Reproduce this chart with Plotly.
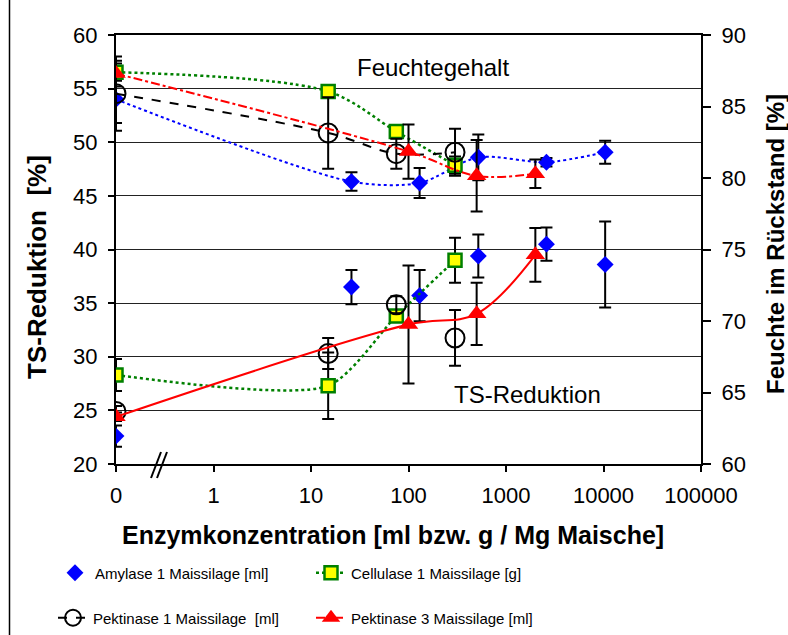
import plotly.graph_objects as go

# ---------------- data ----------------
amy_x = [0, 26, 130, 520, 2600, 10400]
amy_ts = [22.6, 36.5, 35.7, 39.4, 40.5, 38.6]
amy_ts_err = [1.0, 1.6, 2.4, 2.0, 1.55, 4.0]
amy_fe = [85.5, 79.75, 79.65, 81.45, 81.1, 81.8]
amy_fe_err = [1.65, 0.65, 1.05, 1.6, 0.3, 0.8]

cel_x = [0, 15, 75, 300]
cel_ts = [28.3, 27.3, 33.8, 39.0]
cel_ts_err = [1.5, 3.1, 0.5, 2.1]
cel_fe = [87.4, 86.05, 83.25, 80.9]
cel_fe_err = [0.6, 0.3, 0.3, 0.6]

pk1_x = [0, 15, 75, 300]
pk1_ts = [24.9, 30.3, 34.85, 31.75]
pk1_ts_err = [0.5, 1.45, 0.8, 2.6]
pk1_fe = [85.9, 83.15, 81.7, 81.8]
pk1_fe_err = [2.6, 2.5, 1.05, 1.65]

pk3_x = [0, 100, 500, 2000]
pk3_ts = [24.4, 33.0, 34.0, 39.5]
pk3_ts_err = [0.4, 5.5, 2.9, 2.5]
pk3_fe = [87.3, 81.85, 80.15, 80.3]
pk3_fe_err = [0.9, 1.9, 2.5, 1.0]

x_tickvals = [0, 1, 10, 100, 1000, 10000, 100000]
x_ticktext = ["0", "1", "10", "100", "1000", "10000", "100000"]

names = ["Amylase 1 Maissilage [ml]", "Cellulase 1 Maissilage [g]",
         "Pektinase 1 Maissilage  [ml]", "Pektinase 3 Maissilage [ml]"]

# ---------------- layout helpers ----------------
W, H = 788, 635
L, R, T, B = 116, 87, 35, 171
PW, PH = W - L - R, H - T - B
FONT = "Liberation Sans, Arial, sans-serif"


def zpos(v):
    # "0" is drawn one decade left of 1 on the log axis
    return [x if x > 0 else 0.1 for x in v]


def px(xp):
    return (xp - L) / PW


def py(yp):
    return (H - B - yp) / PH


def err(arr):
    return dict(type="data", array=arr, color="black", thickness=2, width=6, visible=True)


m_amy = dict(symbol="diamond", size=13, color="#0000FF", line=dict(width=0))
m_cel = dict(symbol="square", size=13, color="#FFFF00", line=dict(color="#008000", width=2.5))
m_pk1 = dict(symbol="circle-open", size=19, color="black", line=dict(color="black", width=2))
m_pk3 = dict(symbol="triangle-up", size=17, color="#FF0000", line=dict(width=0))

fig = go.Figure()

# upper group: moisture (right axis)
fig.add_trace(go.Scatter(x=zpos(amy_x), y=amy_fe, yaxis="y2", mode="lines+markers",
                         line=dict(color="#0000FF", width=2, dash="dot", shape="spline", smoothing=0.8),
                         marker=m_amy, error_y=err(amy_fe_err), showlegend=False))
fig.add_trace(go.Scatter(x=zpos(cel_x), y=cel_fe, yaxis="y2", mode="lines+markers",
                         line=dict(color="#008000", width=2.5, dash="dot", shape="spline", smoothing=0.9),
                         marker=m_cel, error_y=err(cel_fe_err), name=names[1], legend="legend2"))
fig.add_trace(go.Scatter(x=zpos(pk1_x), y=pk1_fe, yaxis="y2", mode="lines+markers",
                         line=dict(color="black", width=2, dash="dash", shape="spline", smoothing=1),
                         marker=m_pk1, error_y=err(pk1_fe_err), name=names[2], legend="legend3"))
fig.add_trace(go.Scatter(x=zpos(pk3_x), y=pk3_fe, yaxis="y2", mode="lines+markers",
                         line=dict(color="#FF0000", width=2, dash="dashdot", shape="spline", smoothing=1),
                         marker=m_pk3, error_y=err(pk3_fe_err), name=names[3], legend="legend4"))

# lower group: TS reduction (left axis)
fig.add_trace(go.Scatter(x=zpos(amy_x), y=amy_ts, mode="markers",
                         marker=m_amy, error_y=err(amy_ts_err), name=names[0], legend="legend"))
fig.add_trace(go.Scatter(x=zpos(cel_x), y=cel_ts, mode="lines+markers",
                         line=dict(color="#008000", width=2.5, dash="dot", shape="spline", smoothing=0.7),
                         marker=m_cel, error_y=err(cel_ts_err), showlegend=False))
fig.add_trace(go.Scatter(x=zpos(pk1_x), y=pk1_ts, mode="markers",
                         marker=m_pk1, error_y=err(pk1_ts_err), showlegend=False))
fig.add_trace(go.Scatter(x=zpos(pk3_x), y=pk3_ts, mode="lines+markers",
                         line=dict(color="#FF0000", width=2, shape="spline", smoothing=1),
                         marker=m_pk3, error_y=err(pk3_ts_err), showlegend=False))

leg_common = dict(bgcolor="rgba(0,0,0,0)", font=dict(family=FONT, size=15, color="black"),
                  xanchor="left", yanchor="middle", borderwidth=0)

fig.update_layout(
    width=W, height=H,
    margin=dict(l=L, r=R, t=T, b=B, pad=0, autoexpand=False),
    paper_bgcolor="white", plot_bgcolor="white",
    font=dict(family=FONT, color="black"),
    xaxis=dict(type="log", range=[-1, 5], tickvals=zpos(x_tickvals), ticktext=x_ticktext,
               showgrid=False, zeroline=False, showline=True, linecolor="black", linewidth=2,
               mirror=True, ticks="outside", ticklen=6, tickwidth=1.5, tickcolor="black",
               tickfont=dict(size=22, family=FONT), ticklabelstandoff=5),
    yaxis=dict(range=[20, 60], dtick=5, showgrid=True, gridcolor="#222222", gridwidth=1,
               zeroline=False, showline=True, linecolor="black", linewidth=2,
               ticks="outside", ticklen=6, tickwidth=1.5, tickcolor="black",
               tickfont=dict(size=22, family=FONT), ticklabelstandoff=6),
    yaxis2=dict(range=[60, 90], dtick=5, overlaying="y", side="right", showgrid=False,
                zeroline=False, showline=True, linecolor="black", linewidth=2,
                ticks="outside", ticklen=8, tickwidth=1.5, tickcolor="black",
                tickfont=dict(size=22, family=FONT), ticklabelstandoff=6),
    legend=dict(x=px(55), y=py(573), **leg_common),
    legend2=dict(x=px(311), y=py(573), **leg_common),
    legend3=dict(x=px(53), y=py(618), **leg_common),
    legend4=dict(x=px(311), y=py(618), **leg_common),
)

ann = [
    dict(text="Feuchtegehalt", x=px(433), y=py(67), font=dict(size=24)),
    dict(text="TS-Reduktion", x=px(527), y=py(394), font=dict(size=24)),
    dict(text="<b>Enzymkonzentration [ml bzw. g / Mg Maische]</b>", x=px(393), y=py(535),
         font=dict(size=25)),
    dict(text="<b>TS-Reduktion  [%]</b>", x=px(37), y=py(267), textangle=-90, font=dict(size=26)),
    dict(text="<b>Feuchte im Rückstand [%]</b>", x=px(775), y=py(244), textangle=-90,
         font=dict(size=24)),
]
for a in ann:
    fig.add_annotation(xref="paper", yref="paper", showarrow=False, xanchor="center",
                       yanchor="middle", **a)

# axis break mark and outer frame line
for x0, x1 in [(151, 161), (157, 167)]:
    fig.add_shape(type="line", xref="paper", yref="paper", x0=px(x0), y0=py(478),
                  x1=px(x1), y1=py(452), line=dict(color="black", width=2))
fig.add_shape(type="line", xref="paper", yref="paper", x0=px(9.5), y0=py(0), x1=px(9.5),
              y1=py(H), line=dict(color="black", width=1.5))

fig.write_html("out.html")
